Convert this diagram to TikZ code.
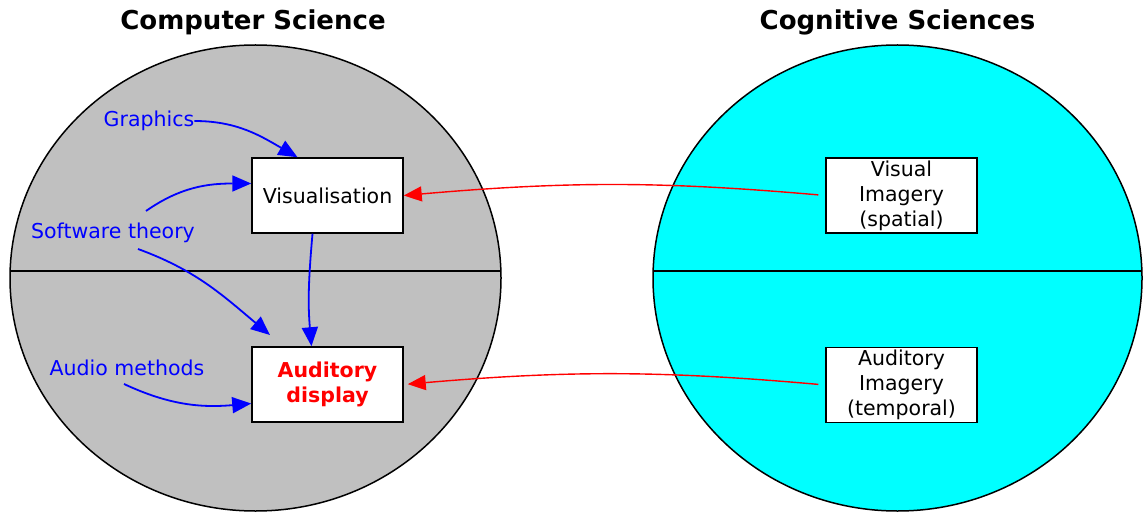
\documentclass[tikz,border=0pt]{standalone}
\usepackage{fontspec}
\setmainfont{DejaVu Sans}
\usetikzlibrary{arrows.meta}
\definecolor{fieldgray}{RGB}{192,192,192}
\definecolor{fieldcyan}{RGB}{0,255,255}
\begin{document}
\begin{tikzpicture}[x=1pt,y=-1pt,
  area/.style={draw=black,line width=1.5pt},
  title/.style={font=\fontsize{26}{31}\selectfont\bfseries},
  topic/.style={shape=rectangle,draw=black,line width=1.5pt,fill=white,minimum width=151pt,minimum height=75pt,align=center,inner sep=0pt,font=\fontsize{20.5}{25}\selectfont},
  source/.style={text=blue,font=\fontsize{20.5}{25}\selectfont,inner sep=0pt},
  feeds/.style={blue,line width=1.8pt,-{Triangle[length=19pt,width=16pt]}},
  maps/.style={red,line width=1.4pt,-{Triangle[length=18pt,width=15pt]}}]
\useasboundingbox (0,0) rectangle (1143,513);
% the two fields
\draw[area,fill=fieldgray] (255.5,278) ellipse [x radius=245.5,y radius=233];
\draw[area,fill=fieldcyan] (897.5,278) ellipse [x radius=244.5,y radius=233];
\begin{scope}
\clip (255.5,278) ellipse [x radius=245.5,y radius=233];
\draw[line width=1.5pt] (0,271) -- (520,271);
\end{scope}
\begin{scope}
\clip (897.5,278) ellipse [x radius=244.5,y radius=233];
\draw[line width=1.5pt] (640,271) -- (1143,271);
\end{scope}
\node[title] (CS) at (253,22) {Computer Science};
\node[title] (CG) at (897.5,22) {Cognitive Sciences};
% boxes
\node[topic] (V) at (327.5,195.5) {Visualisation};
\node[topic,text=red,font=\fontsize{20.5}{25}\selectfont\bfseries] (AD) at (327.5,384.5) {Auditory\\display};
\node[topic] (VI) at (901.5,195.5) {Visual\\Imagery\\(spatial)};
\node[topic] (AI) at (901.5,385) {Auditory\\Imagery\\(temporal)};
% sources
\node[source] (G) at (149,121) {Graphics};
\node[source] (ST) at (113,233) {Software theory};
\node[source] (AM) at (127,367.5) {Audio methods};
\coordinate (STa) at (146,211);
\coordinate (STb) at (138,249);
\coordinate (STt) at (270,335);
\coordinate (AMa) at (124,384);
\draw[feeds] (G.east) to[out=0,in=150] ([xshift=-30pt]V.north);
\draw[feeds] (STa) to[out=35,in=180] ([yshift=12pt]V.west);
\draw[feeds] (STb) to[out=-20,in=140] (STt);
\draw[feeds] ([xshift=-15pt]V.south) to[out=-95,in=95] ([xshift=-16pt]AD.north);
\draw[feeds] (AMa) to[out=-25,in=185] ([yshift=-19pt]AD.west);
\draw[maps,shorten <=7pt] (VI.west) to[bend right=5] (V.east);
\draw[maps,shorten <=7pt,shorten >=4pt] (AI.west) to[bend right=5] (AD.east);
\end{tikzpicture}
\end{document}
